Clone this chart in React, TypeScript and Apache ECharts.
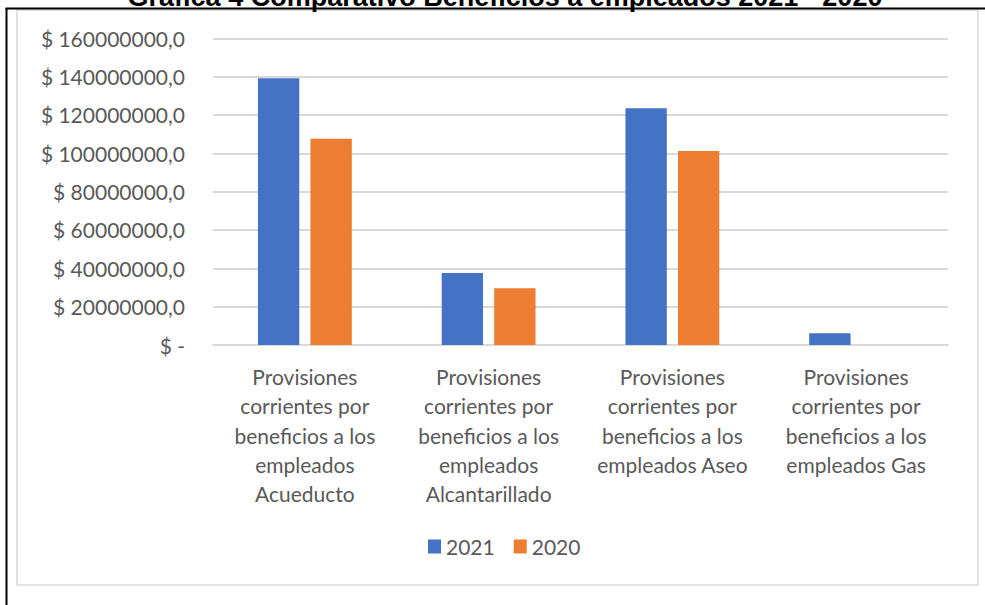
import React, { useEffect, useRef } from "react";
import * as echarts from "echarts";

const titleText = "Gráfica 4 Comparativo Beneficios a empleados 2021 - 2020";
const categories = [
  "Provisiones\ncorrientes por\nbeneficios a los\nempleados\nAcueducto",
  "Provisiones\ncorrientes por\nbeneficios a los\nempleados\nAlcantarillado",
  "Provisiones\ncorrientes por\nbeneficios a los\nempleados Aseo",
  "Provisiones\ncorrientes por\nbeneficios a los\nempleados Gas",
];
const seriesNames = ["2021", "2020"];
const values2021 = [139200000, 37600000, 123500000, 6100000];
const values2020 = [107600000, 29600000, 101200000, 0];
const yMin = 0;
const yMax = 160000000;
const yInterval = 20000000;
const colors = ["#4472C4", "#ED7D31"];

const FONT = "Lato, 'Open Sans', sans-serif";

export default function App() {
  const ref = useRef<HTMLDivElement>(null);
  useEffect(() => {
    if (!ref.current) return;
    const chart = echarts.init(ref.current, undefined, { renderer: "svg" });
    chart.setOption({
      animation: false,
      backgroundColor: "#ffffff",
      graphic: [
        {
          type: "rect",
          z: -10,
          shape: { x: 17, y: 10, width: 961, height: 575 },
          style: { fill: "#ffffff", stroke: "#d9d9d9", lineWidth: 1.5 },
        },
        {
          type: "line",
          z: 10,
          shape: { x1: 5.5, y1: 8.5, x2: 985, y2: 8.5 },
          style: { stroke: "#000000", lineWidth: 2 },
        },
        {
          type: "line",
          z: 10,
          shape: { x1: 6.5, y1: 8, x2: 6.5, y2: 605 },
          style: { stroke: "#000000", lineWidth: 2 },
        },
        {
          type: "text",
          z: 5,
          x: 505,
          y: -3.5,
          style: {
            text: titleText,
            fill: "#000000",
            font: "bold 27px Arial, 'Liberation Sans', sans-serif",
            textAlign: "center",
            textVerticalAlign: "middle",
          },
        },
      ],
      grid: { left: 213, right: 37, top: 38.3, bottom: 260, containLabel: false },
      legend: {
        data: seriesNames,
        left: 423,
        top: 531,
        itemWidth: 13,
        itemHeight: 14,
        itemGap: 19,
        icon: "rect",
        textStyle: { fontFamily: FONT, fontSize: 21, color: "#595959" },
      },
      xAxis: {
        type: "category",
        data: categories,
        axisLine: { show: true, lineStyle: { color: "#d9d9d9", width: 1.8 } },
        axisTick: { show: false },
        axisLabel: {
          interval: 0,
          margin: 17,
          fontFamily: FONT,
          fontSize: 21,
          lineHeight: 29.3,
          color: "#595959",
        },
      },
      yAxis: {
        type: "value",
        min: yMin,
        max: yMax,
        interval: yInterval,
        axisLine: { show: false },
        axisTick: { show: false },
        splitLine: { lineStyle: { color: "#d9d9d9", width: 1.8 } },
        axisLabel: {
          margin: 28,
          fontFamily: FONT,
          fontSize: 21,
          color: "#595959",
          formatter: (v: number) => (v === 0 ? "$ -" : `$ ${v},0`),
        },
      },
      series: [
        {
          name: seriesNames[0],
          type: "bar",
          data: values2021,
          barWidth: "22.5%",
          barGap: "27%",
          itemStyle: { color: colors[0] },
        },
        {
          name: seriesNames[1],
          type: "bar",
          data: values2020,
          barWidth: "22.5%",
          barGap: "27%",
          itemStyle: { color: colors[1] },
        },
      ],
    });
    return () => chart.dispose();
  }, []);
  return (
    <div
      ref={ref}
      style={{ position: "fixed", left: 0, top: 0, width: 985, height: 605 }}
    />
  );
}
